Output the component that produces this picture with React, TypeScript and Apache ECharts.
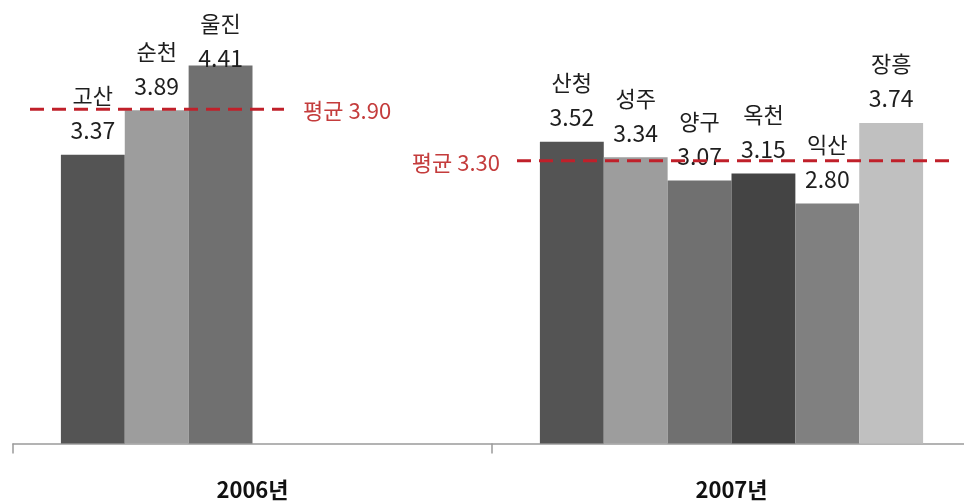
import React, { useEffect, useRef } from "react";
import * as echarts from "echarts";

const categories = ["2006년", "2007년"];
const names2006 = ["고산", "순천", "울진"];
const values2006 = [3.37, 3.89, 4.41];
const names2007 = ["산청", "성주", "양구", "옥천", "익산", "장흥"];
const values2007 = [3.52, 3.34, 3.07, 3.15, 2.8, 3.74];
const averages = [3.9, 3.3];
const averageLabels = ["평균 3.90", "평균 3.30"];

const colors2006 = ["#545454", "#9d9d9d", "#707070"];
const colors2007 = ["#545454", "#9d9d9d", "#707070", "#444444", "#808080", "#c0c0c0"];

const FONT = "'Noto Sans CJK KR', 'Noto Sans', sans-serif";

export default function App() {
  const ref = useRef<HTMLDivElement>(null);
  useEffect(() => {
    if (!ref.current) return;
    const chart = echarts.init(ref.current, undefined, { renderer: "svg" });
    const slots = Math.max(names2006.length, names2007.length);
    const series: any[] = [];
    for (let i = 0; i < slots; i++) {
      const data: any[] = [];
      const groups = [
        { names: names2006, values: values2006, colors: colors2006 },
        { names: names2007, values: values2007, colors: colors2007 },
      ];
      groups.forEach((g) => {
        if (i < g.values.length) {
          const item: any = {
            value: g.values[i],
            name: g.names[i],
            itemStyle: { color: g.colors[i] },
          };
          if (g.values[i] === Math.max(...values2006, ...values2007)) {
            item.label = { offset: [0, 17] };
          }
          data.push(item);
        } else {
          data.push(null);
        }
      });
      series.push({
        type: "bar",
        data,
        barGap: "0%",
        barCategoryGap: "20%",
        label: {
          show: true,
          position: "top",
          distance: 8,
          formatter: (p: any) => `{n|${p.data.name}}\n{v|${p.data.value.toFixed(2)}}`,
          rich: {
            n: { fontSize: 22, lineHeight: 35, color: "#1e1e1e", fontFamily: FONT },
            v: { fontSize: 23, lineHeight: 35, color: "#1e1e1e", fontFamily: FONT },
          },
        },
      });
    }

    chart.setOption({
      animation: false,
      grid: { left: 13, width: 958, top: 15, bottom: 58.5, outerBoundsMode: "none", containLabel: false },
      xAxis: {
        type: "category",
        data: categories,
        boundaryGap: true,
        axisLine: { lineStyle: { color: "#9a9a9a", width: 1.5 } },
        axisTick: { show: true, length: 10, lineStyle: { color: "#9a9a9a", width: 1.5 } },
        axisLabel: {
          margin: 33,
          fontSize: 22,
          lineHeight: 22,
          fontWeight: "bold",
          color: "#111",
          fontFamily: FONT,
        },
      },
      yAxis: {
        type: "value",
        min: 0,
        max: 5,
        show: false,
        splitLine: { show: false },
      },
      series,
    });

    const y1 = chart.convertToPixel({ yAxisIndex: 0 }, averages[0]) as number;
    const y2 = chart.convertToPixel({ yAxisIndex: 0 }, averages[1]) as number;
    const dashStyle = { stroke: "#c0202a", lineWidth: 3, lineDash: [14, 8] };
    const textStyle = { fontSize: 22, fill: "#c43c3c", fontFamily: FONT, verticalAlign: "middle" };
    chart.setOption({
      graphic: [
        { type: "line", shape: { x1: 30, y1, x2: 284, y2: y1 }, style: dashStyle, z: 10 },
        { type: "text", x: 303, y: y1, style: { ...textStyle, text: averageLabels[0], align: "left" }, z: 10 },
        { type: "line", shape: { x1: 517, y1: y2, x2: 950, y2 }, style: dashStyle, z: 10 },
        { type: "text", x: 500, y: y2, style: { ...textStyle, text: averageLabels[1], align: "right" }, z: 10 },
      ],
    });

    return () => chart.dispose();
  }, []);
  return <div ref={ref} style={{ width: 964, height: 502, position: "fixed", left: 0, top: 0 }} />;
}
